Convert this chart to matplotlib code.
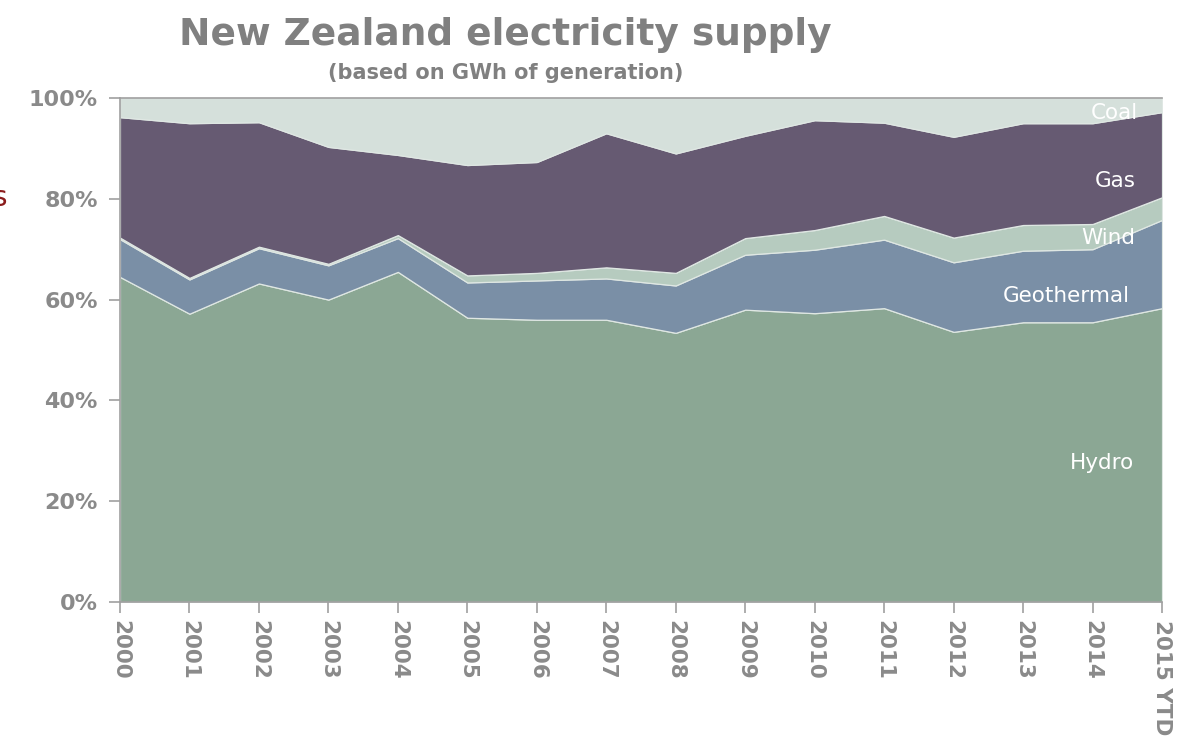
import numpy as np
import matplotlib
matplotlib.use('Agg')
import matplotlib.pyplot as plt
from matplotlib.ticker import FuncFormatter

# share of generation (%) by source
years = ['2000', '2001', '2002', '2003', '2004', '2005', '2006', '2007',
         '2008', '2009', '2010', '2011', '2012', '2013', '2014', '2015 YTD']
hydro = [64.5, 57.2, 63.2, 60.0, 65.5, 56.4, 56.0, 56.0,
         53.4, 58.0, 57.3, 58.3, 53.6, 55.5, 55.5, 58.3]
geothermal = [7.5, 6.8, 7.0, 6.8, 6.7, 7.0, 7.8, 8.2,
              9.4, 10.9, 12.6, 13.6, 13.8, 14.2, 14.5, 17.5]
wind = [0.3, 0.3, 0.3, 0.3, 0.6, 1.4, 1.5, 2.2,
        2.5, 3.3, 3.9, 4.7, 4.9, 5.1, 5.0, 4.5]
gas = [23.9, 30.7, 24.7, 23.2, 15.9, 21.9, 22.0, 26.6,
       23.7, 20.3, 21.8, 18.5, 20.0, 20.2, 20.0, 16.9]
coal = [3.8, 5.0, 4.8, 9.7, 11.3, 13.3, 12.7, 7.0,
        11.0, 7.5, 4.4, 4.9, 7.7, 5.0, 5.0, 2.8]

names = ['Hydro', 'Geothermal', 'Wind', 'Gas', 'Coal']
colors = ['#8ba794', '#7a8fa6', '#b6cbbf', '#665a72', '#d5e0db']
grey = '#8a8a8a'

x = np.arange(len(years))
fig = plt.figure(figsize=(11.95, 7.38), dpi=100)
ax = fig.add_axes([0.1004, 0.1843, 0.872, 0.6829])

ax.stackplot(x, hydro, geothermal, wind, gas, coal, colors=colors,
             edgecolor='#dfe7e3', linewidth=0.9)
ax.set_xlim(0, len(years) - 1)
ax.set_ylim(0, 100)

ax.set_xticks(x)
ax.set_xticklabels(years, rotation=-90, va='top', ha='center')
ax.set_yticks(np.arange(0, 101, 20))
ax.yaxis.set_major_formatter(FuncFormatter(lambda v, p: '%d%%' % v))
ax.tick_params(axis='both', colors='#a0a0a0', length=8, width=1.2,
               labelcolor=grey, labelsize=16)
ax.tick_params(axis='y', pad=8)
ax.tick_params(axis='x', pad=5, labelsize=15.5)
for lbl in ax.get_xticklabels() + ax.get_yticklabels():
    lbl.set_fontweight('bold')

for side in ['left', 'bottom', 'top']:
    ax.spines[side].set_color('#a0a0a0')
    ax.spines[side].set_linewidth(1.2)
ax.spines['right'].set_visible(False)

# series names near the right end of each band
label_pos = [('Coal', 14.32, 97.0), ('Gas', 14.32, 83.5), ('Wind', 14.22, 72.2),
             ('Geothermal', 13.62, 60.7), ('Hydro', 14.14, 27.6)]
for name, lx, ly in label_pos:
    ax.text(lx, ly, name, color='white', fontsize=15.5, ha='center', va='center')

fig.text(0.4226, 0.952, 'New Zealand electricity supply', color='#808080',
         fontsize=27, fontweight='bold', ha='center', va='center')
fig.text(0.4234, 0.901, '(based on GWh of generation)', color='#808080',
         fontsize=15, fontweight='bold', ha='center', va='center')
fig.text(-0.006, 1 - 198 / 738, 's', color='#8b1c1c', fontsize=20,
         ha='left', va='center')

plt.savefig('out.png', dpi=100)
plt.close()
